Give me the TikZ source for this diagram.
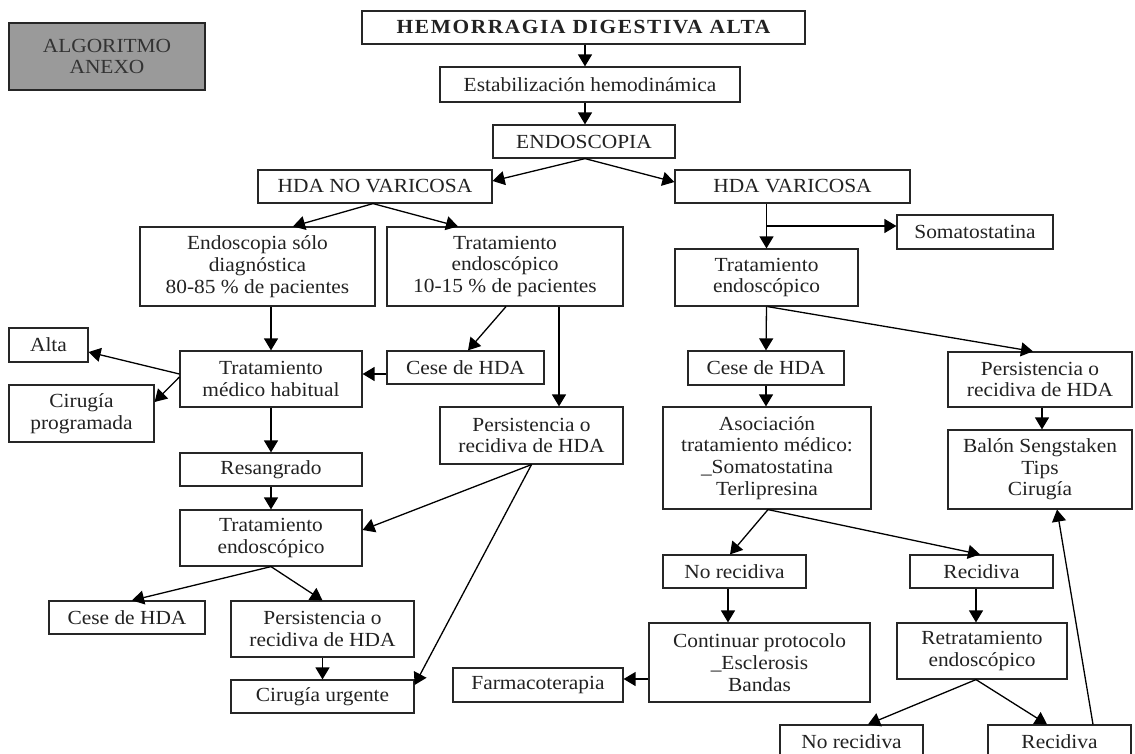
\documentclass[tikz,border=0pt]{standalone}
\usepackage{fontspec}
\setmainfont{Liberation Serif}[FakeStretch=1.07]
\newfontfamily\titlefont{Liberation Serif}[FakeStretch=1.07,LetterSpace=8]
\usetikzlibrary{arrows.meta,calc}
\definecolor{txt}{HTML}{222222}
\definecolor{algfill}{HTML}{9A9A9A}
\tikzset{
  box/.style={draw=black!85, line width=1.2pt, rectangle, inner sep=0pt, align=center,
    text=txt, font=\fontsize{20}{21.7}\selectfont},
  arr/.style={-{Triangle[length=12pt,width=14pt]}, line width=1.3pt, black},
}
\begin{document}
\begin{tikzpicture}[x=1pt,y=-1pt]
\fill[white] (0,0) rectangle (1135,754);
\useasboundingbox (0,0) rectangle (1135,754);
% nodes
\node[box, fill=algfill, minimum width=196pt, minimum height=67pt, text=black!80] (alg) at (107,56.5) {ALGORITMO\\ANEXO};
\node[box, minimum width=443pt, minimum height=33pt, font=\titlefont\bfseries\fontsize{20}{21.7}\selectfont] (hda) at (583.5,27.5) {HEMORRAGIA DIGESTIVA ALTA};
\node[box, minimum width=300pt, minimum height=35pt] (estab) at (590,84.5) {Estabilización hemodinámica};
\node[box, minimum width=182pt, minimum height=33pt] (endo) at (584,141.5) {ENDOSCOPIA};
\node[box, minimum width=234pt, minimum height=33pt] (hnv) at (375,186.5) {HDA NO VARICOSA};
\node[box, minimum width=235pt, minimum height=33pt] (hv) at (792.5,186.5) {HDA VARICOSA};
\node[box, minimum width=235pt, minimum height=79pt] (esd) at (257.5,266.5) {Endoscopia sólo\\diagnóstica\\80-85 \% de pacientes};
\node[box, minimum width=236pt, minimum height=79pt] (ted) at (505,266.5) {Tratamiento\\endoscópico\\10-15 \% de pacientes};
\node[box, minimum width=79pt, minimum height=34pt] (alta) at (48.5,345) {Alta};
\node[box, minimum width=145pt, minimum height=57pt] (cirp) at (81.5,413.5) {Cirugía\\programada};
\node[box, minimum width=182pt, minimum height=56pt] (tmh) at (271,379) {Tratamiento\\médico habitual};
\node[box, minimum width=157pt, minimum height=33pt] (cese1) at (465.5,367.5) {Cese de HDA};
\node[box, minimum width=183pt, minimum height=57pt] (pers1) at (531.5,435.5) {Persistencia o\\recidiva de HDA};
\node[box, minimum width=182pt, minimum height=33pt] (resang) at (271,469.5) {Resangrado};
\node[box, minimum width=182pt, minimum height=56pt] (te2) at (271,538) {Tratamiento\\endoscópico};
\node[box, minimum width=156pt, minimum height=33pt] (cese2) at (127,617.5) {Cese de HDA};
\node[box, minimum width=183pt, minimum height=56pt] (pers2) at (322.5,629) {Persistencia o\\recidiva de HDA};
\node[box, minimum width=183pt, minimum height=33pt] (cirurg) at (322.5,696.5) {Cirugía urgente};
\node[box, minimum width=156pt, minimum height=34pt] (soma) at (975,232) {Somatostatina};
\node[box, minimum width=183pt, minimum height=57pt] (ter) at (766.5,277.5) {Tratamiento\\endoscópico};
\node[box, minimum width=156pt, minimum height=34pt] (cese3) at (766,368) {Cese de HDA};
\node[box, minimum width=184pt, minimum height=55pt] (pers3) at (1040,379.5) {Persistencia o\\recidiva de HDA};
\node[box, minimum width=208pt, minimum height=102pt] (asoc) at (767,458) {Asociación\\tratamiento médico:\\\_Somatostatina\\Terlipresina};
\node[box, minimum width=184pt, minimum height=79pt] (balon) at (1040,469.5) {Balón Sengstaken\\Tips\\Cirugía};
\node[box, minimum width=143pt, minimum height=33pt] (norec1) at (734.5,571.5) {No recidiva};
\node[box, minimum width=143pt, minimum height=33pt] (rec1) at (981.5,571.5) {Recidiva};
\node[box, minimum width=221pt, minimum height=79pt] (cont) at (759.5,662.5) {Continuar protocolo\\\_Esclerosis\\Bandas};
\node[box, minimum width=170pt, minimum height=34pt] (farm) at (538,685) {Farmacoterapia};
\node[box, minimum width=170pt, minimum height=56pt] (retr) at (982,651) {Retratamiento\\endoscópico};
\node[box, minimum width=143pt, minimum height=33pt] (norec2) at (851.5,741.5) {No recidiva};
\node[box, minimum width=143pt, minimum height=33pt] (rec2) at (1059.5,741.5) {Recidiva};
% connectors
\draw[arr] ([xshift=1.5pt]hda.south) -- ([xshift=1.5pt]hda.south |- estab.north);
\draw[arr] ([xshift=1pt]endo.north |- estab.south) -- ([xshift=1pt]endo.north);
\draw[arr] ([xshift=1pt]endo.south) -- ([yshift=5.5pt]hnv.east);
\draw[arr] ([xshift=1pt]endo.south) -- ([yshift=4.5pt]hv.west);
\draw[arr] ([xshift=-2pt]hnv.south) -- ([xshift=35.5pt]esd.north);
\draw[arr] ([xshift=-2pt]hnv.south) -- ([xshift=-47pt]ted.north);
\draw[arr] (tmh.north |- esd.south) -- (tmh.north);
\draw[arr] ([yshift=5pt]tmh.west) -- ([yshift=-7pt]alta.east);
\draw[arr] ([yshift=2pt]tmh.west) -- ([yshift=11.5pt]cirp.east);
\draw[arr] ([yshift=-6.5pt]cese1.west) -- ([yshift=-6.5pt]cese1.west -| tmh.east);
\draw[arr] ([xshift=1pt]ted.south) -- ([xshift=2.5pt]cese1.north);
\draw[arr] ([xshift=27.5pt]pers1.north |- ted.south) -- ([xshift=27.5pt]pers1.north);
\draw[arr] (tmh.south) -- (resang.north);
\draw[arr] (resang.south) -- (te2.north);
\draw[arr] (pers1.south) -- ([yshift=8pt]te2.east);
\draw[arr] (pers1.south) -- ([yshift=11.5pt]cirurg.east);
\draw[arr] (te2.south) -- ([xshift=5pt]cese2.north);
\draw[arr] (te2.south) -- (pers2.north);
\draw[arr] (pers2.south) -- (cirurg.north);
% varicosa side
\draw[arr] (ter.north |- hv.south) -- (ter.north);
\coordinate (br) at ($(ter.north)!0.5!(ter.north |- hv.south)$);
\draw[arr] (br) -- (br -| soma.west);
\draw[arr] (ter.south) -- (cese3.north);
\draw[arr] ([xshift=1pt]ter.south) -- ([xshift=-7pt]pers3.north);
\draw[arr] (cese3.south) -- (cese3.south |- asoc.north);
\draw[arr] ([xshift=2pt]pers3.south) -- ([xshift=2pt]balon.north);
\draw[arr] ([xshift=1pt]asoc.south) -- ([xshift=-4.5pt]norec1.north);
\draw[arr] ([xshift=1pt]asoc.south) -- ([xshift=-1.5pt]rec1.north);
\draw[arr] ([xshift=-6.5pt]norec1.south) -- ([xshift=-6.5pt]norec1.south |- cont.north);
\draw[arr] ([yshift=-16.5pt]cont.west) -- ([yshift=-16.5pt]cont.west -| farm.east);
\draw[arr] ([xshift=-5.5pt]rec1.south) -- ([xshift=-5.5pt]rec1.south |- retr.north);
\draw[arr] ([xshift=-6pt]retr.south) -- ([xshift=16.5pt]norec2.north);
\draw[arr] ([xshift=-6pt]retr.south) -- ([xshift=-12.5pt]rec2.north);
\draw[arr] ([xshift=33.5pt]rec2.north) -- ([xshift=17pt]balon.south);
\end{tikzpicture}
\end{document}
